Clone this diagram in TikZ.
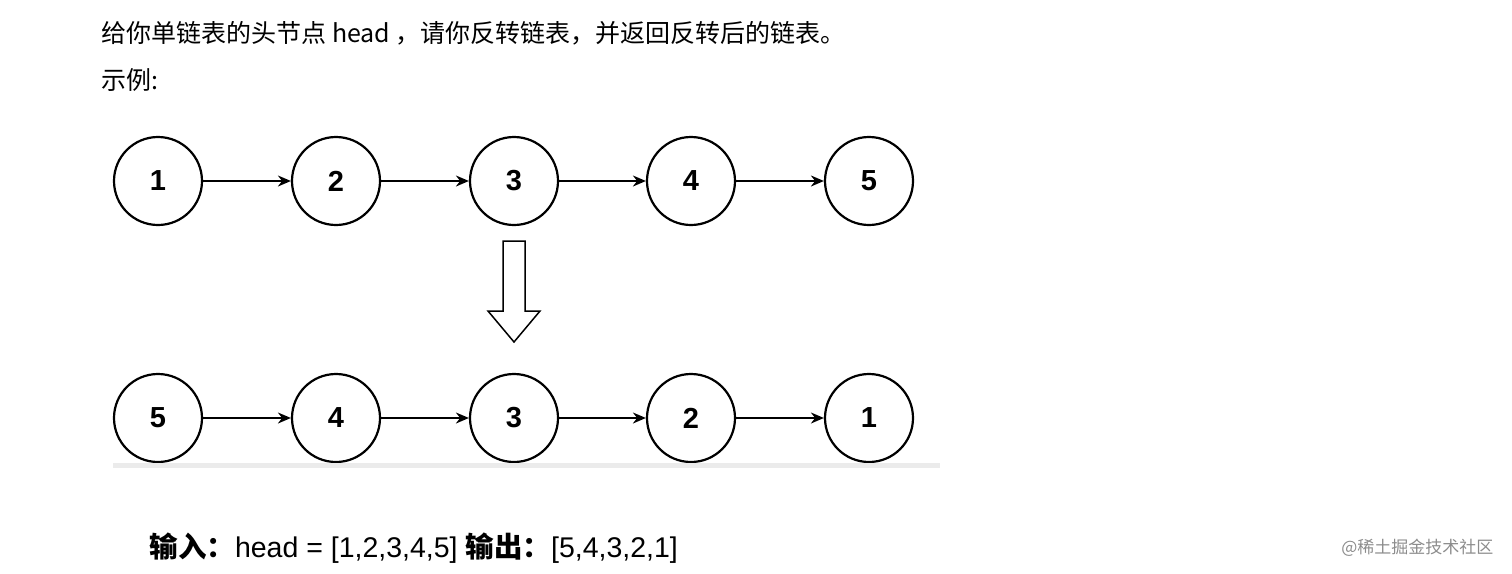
\documentclass[tikz,border=0pt]{standalone}
\usepackage{fontspec}
\usetikzlibrary{arrows.meta}
\setmainfont{Liberation Sans}
\newfontfamily\cjk{Noto Sans CJK SC}
\begin{document}
\begin{tikzpicture}[x=1pt,y=-1pt,
  ln/.style={circle,draw,line width=2.2pt,minimum size=88pt,inner sep=0pt,font=\fontsize{29}{29}\selectfont\bfseries},
  ar/.style={-{Stealth[length=13pt,width=11pt]},line width=1.6pt}]
\useasboundingbox (0,0) rectangle (1512,573);
\node[anchor=west,font=\cjk\fontsize{25}{25}\selectfont] (t1) at (98,33) {给你单链表的头节点 head ，请你反转链表，并返回反转后的链表。};
\node[anchor=west,font=\cjk\fontsize{25}{25}\selectfont] (t2) at (98,80) {示例:};
\foreach \n/\x/\a/\b in {1/158/1/5,2/336/2/4,3/514/3/3,4/691/4/2,5/869/5/1}{
  \node[ln] (a\n) at (\x,181) {\a};
  \node[ln] (b\n) at (\x,418) {\b};
}
\foreach \i/\j in {1/2,2/3,3/4,4/5}{
  \draw[ar] (a\i) -- (a\j);
  \draw[ar] (b\i) -- (b\j);
}
\draw[line width=1.5pt] (503,241) -- (525,241) -- (525,311) -- (540,311) -- (514,342) -- (488,311) -- (503,311) -- cycle;
\fill[black!8] (113,463) rectangle (940,468);
\node[anchor=west,font=\fontsize{28.5}{28.5}\selectfont] (t3) at (146,548) {{\cjk\bfseries 输入：}head = [1,2,3,4,5] {\cjk\bfseries 输出：}[5,4,3,2,1]};
\node[anchor=east,text=black!45,font=\cjk\fontsize{17}{17}\selectfont] (wm) at (1497,548) {@稀土掘金技术社区};
\end{tikzpicture}
\end{document}
